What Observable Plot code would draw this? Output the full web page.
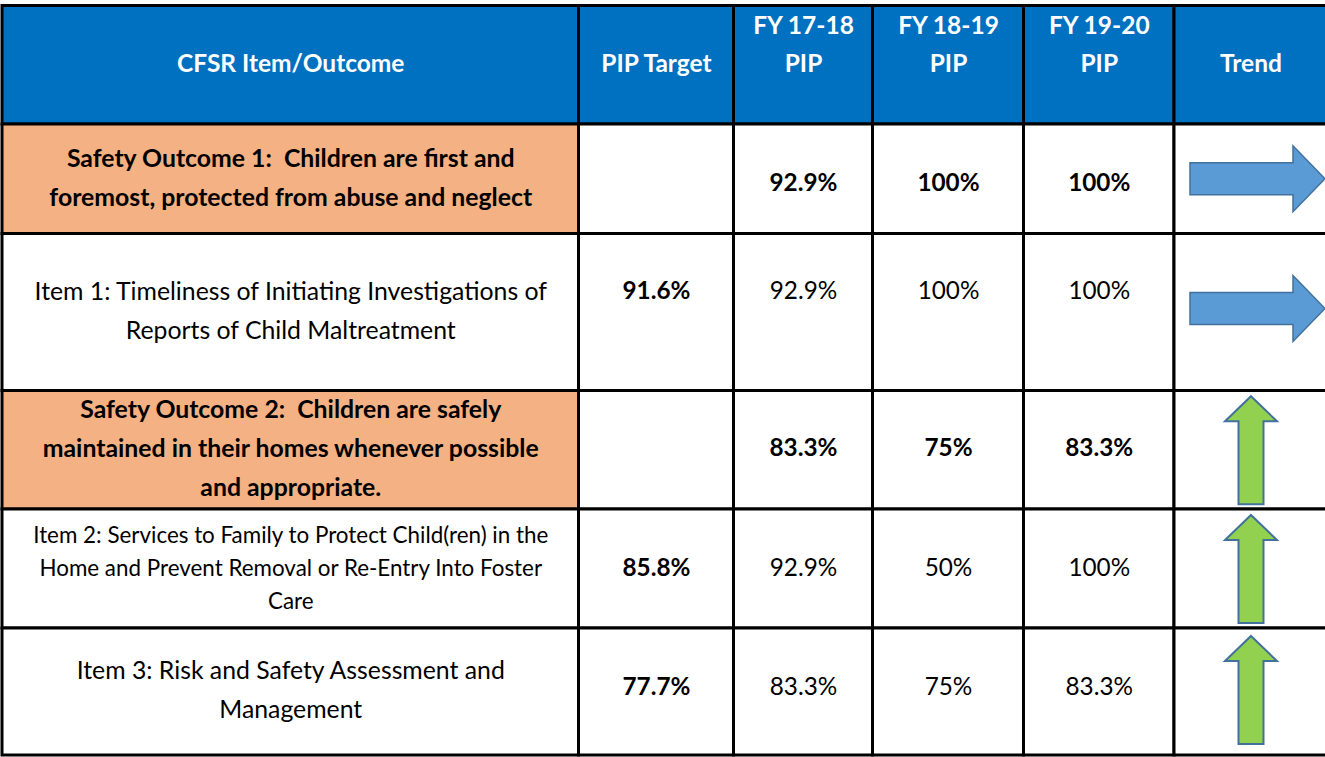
<!DOCTYPE html>
<html><head><meta charset="utf-8">
<script src="https://cdn.jsdelivr.net/npm/d3@7"></script>
<script src="https://cdn.jsdelivr.net/npm/@observablehq/plot@0.6"></script>
<style>html,body{margin:0;padding:0;background:#fff;overflow:hidden}</style>
</head><body><div id="chart"></div>
<script>
// ---------------- data ----------------
const columns = ["CFSR Item/Outcome", "PIP Target", "FY 17-18\nPIP", "FY 18-19\nPIP", "FY 19-20\nPIP", "Trend"];
const items = [
  "Safety Outcome 1:  Children are first and\nforemost, protected from abuse and neglect",
  "Item 1: Timeliness of Initiating Investigations of\nReports of Child Maltreatment",
  "Safety Outcome 2:  Children are safely\nmaintained in their homes whenever possible\nand appropriate.",
  "Item 2: Services to Family to Protect Child(ren) in the\nHome and Prevent Removal or Re-Entry Into Foster\nCare",
  "Item 3: Risk and Safety Assessment and\nManagement"
];
const rowKind = ["outcome", "item", "outcome", "item", "item"];
const pipTarget = [null, 91.6, null, 85.8, 77.7];
const fy1718 = [92.9, 92.9, 83.3, 92.9, 83.3];
const fy1819 = [100, 100, 75, 50, 75];
const fy1920 = [100, 100, 83.3, 100, 83.3];
const trend = ["flat", "flat", "up", "up", "up"];

// ---------------- layout ----------------
const W = 1325, H = 757;
const colEdges = [2, 578.5, 733.5, 872.5, 1023.5, 1174, 1327];
const rowEdges = [5.5, 124, 233.5, 390.5, 509, 628, 755];
const FONT = "Lato, 'Open Sans', sans-serif";
const headerBlue = "#0070C0", outcomeOrange = "#F4B183";
const smallRow = 3;           // row whose label uses the smaller type
const labelDy = [-5.5, -5.5, -5.5, -4, -5.5];
const valueDy = [4, -21, -2, -1, -5];
const arrowDy = [-0.5, -4, 0, 0, -2];
const shapes = {
  flat: {pts: [[-61,-16],[42,-16],[42,-33],[74,0],[42,33],[42,16],[-61,16]], fill: "#5B9BD5"},
  up: {pts: [[0,-54],[26,-29],[12.5,-29],[12.5,54],[-12.5,54],[-12.5,-29],[-26,-29]], fill: "#92D050"}
};
const cx = c => (colEdges[c] + colEdges[c + 1]) / 2;
const cy = r => (rowEdges[r] + rowEdges[r + 1]) / 2;

// cells
const cells = [];
for (let r = 0; r < 6; r++) for (let c = 0; c < 6; c++) {
  let fill = "white";
  if (r === 0) fill = headerBlue;
  else if (c === 0 && rowKind[r - 1] === "outcome") fill = outcomeOrange;
  cells.push({x1: colEdges[c], x2: colEdges[c + 1], y1: rowEdges[r], y2: rowEdges[r + 1], fill});
}

// header
const header = columns.map((t, i) => {
  const n = t.split("\n").length;
  return {x: cx(i), y: cy(0) - 5 - (n - 1) * 19, text: t};
});

// labels
const labels = items.map((t, i) => ({x: cx(0), y: cy(i + 1) + labelDy[i], text: t, kind: rowKind[i], i}));

// values
const values = [];
const series = [pipTarget, fy1718, fy1819, fy1920];
items.forEach((_, i) => {
  series.forEach((s, j) => {
    if (s[i] == null) return;
    const bold = j === 0 || rowKind[i] === "outcome";
    values.push({x: cx(j + 1), y: cy(i + 1) + valueDy[i], text: s[i] + "%", bold});
  });
});

// arrows
const arrows = [];
trend.forEach((t, i) => {
  const s = shapes[t];
  s.pts.forEach(([dx, dy]) => arrows.push({id: i, kind: t, x: cx(5) + dx, y: cy(i + 1) + arrowDy[i] + dy}));
});

const textBase = {x: "x", y: "y", text: "text", fontFamily: FONT, textAnchor: "middle", lineAnchor: "middle"};

const chart = Plot.plot({
  width: W, height: H, margin: 0,
  x: {domain: [0, W], range: [0, W], axis: null},
  y: {domain: [0, H], range: [0, H], axis: null},
  style: {background: "white", fontFamily: FONT},
  marks: [
    Plot.rect(cells, {x1: "x1", x2: "x2", y1: "y1", y2: "y2", fill: d => d.fill, stroke: "black", strokeWidth: 3}),
    Plot.text(header, {...textBase, fill: "white", fontWeight: "bold", fontSize: 24.5, lineHeight: 38 / 24.5}),
    Plot.text(labels, {...textBase, filter: d => d.kind === "outcome", fill: "black", fontWeight: "bold", fontSize: 24.8, lineHeight: 39 / 24.8}),
    Plot.text(labels, {...textBase, filter: d => d.kind === "item" && d.i !== smallRow, fill: "black", fontSize: 24.8, lineHeight: 39 / 24.8}),
    Plot.text(labels, {...textBase, filter: d => d.i === smallRow, fill: "black", fontSize: 22.4, lineHeight: 33 / 22.4}),
    Plot.text(values, {...textBase, filter: d => d.bold, fill: "black", fontWeight: "bold", fontSize: 24.3}),
    Plot.text(values, {...textBase, filter: d => !d.bold, fill: "black", fontSize: 24.3}),
    Plot.line(arrows, {x: "x", y: "y", z: "id", filter: d => d.kind === "flat", curve: "linear-closed", fill: shapes.flat.fill, stroke: "#41719C", strokeWidth: 1.5, strokeLinejoin: "miter", strokeMiterlimit: 10}),
    Plot.line(arrows, {x: "x", y: "y", z: "id", filter: d => d.kind === "up", curve: "linear-closed", fill: shapes.up.fill, stroke: "#41719C", strokeWidth: 2, strokeLinejoin: "miter", strokeMiterlimit: 10})
  ]
});
chart.style.display = "block";
document.getElementById("chart").appendChild(chart);
</script>
</body></html>
